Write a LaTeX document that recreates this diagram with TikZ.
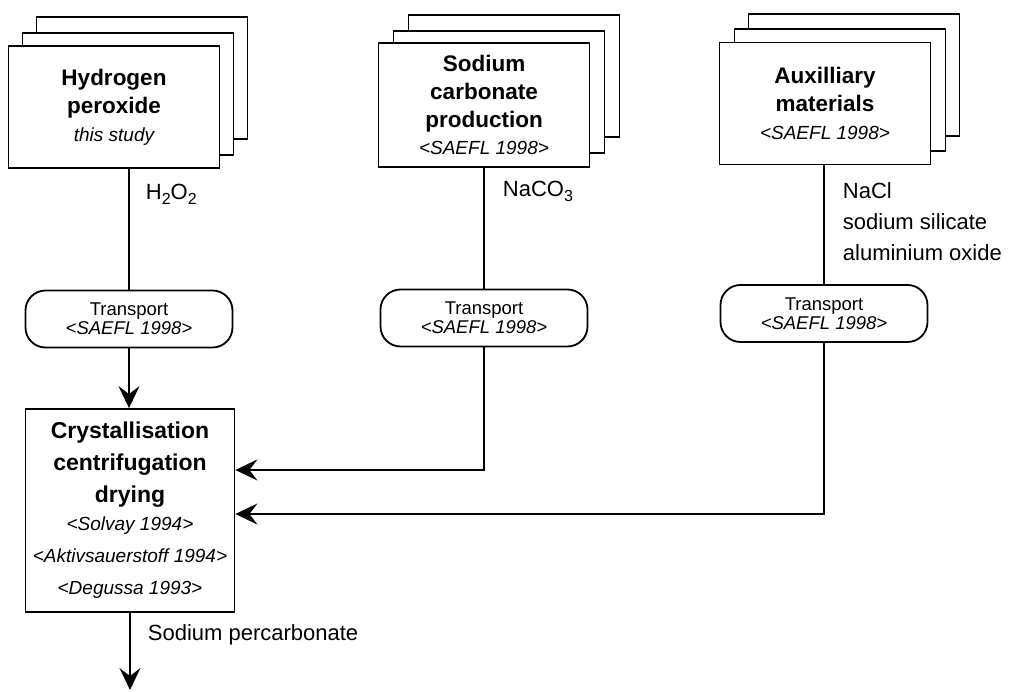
\documentclass[tikz,border=0pt]{standalone}
\usepackage{fontspec}
\setmainfont{Liberation Sans}
\usetikzlibrary{arrows.meta}
\newcommand\chemsub[1]{\raisebox{-5pt}{\fontsize{16}{16}\selectfont #1}}
\newcommand\reffont{\fontsize{19}{27}\selectfont\normalfont\itshape}
\newcommand\procref{\fontsize{19}{27}\selectfont\normalfont\itshape}
\begin{document}
\begin{tikzpicture}[x=1pt,y=-1pt,line width=1.8pt,
  srcbox/.style={draw, fill=white, minimum width=211pt, minimum height=122pt,
    align=center, inner sep=0pt, font=\fontsize{22.5}{28}\selectfont\bfseries},
  copybox/.style={draw, fill=white, minimum width=211pt, minimum height=122pt, inner sep=0pt},
  transbox/.style={draw, fill=white, rounded corners=20pt, minimum width=207pt,
    minimum height=57pt, align=center, inner sep=0pt, font=\fontsize{18.5}{19}\selectfont},
  procbox/.style={draw, fill=white, minimum width=209pt, minimum height=203pt,
    align=center, inner sep=0pt, font=\fontsize{23}{32}\selectfont\bfseries},
  flowlbl/.style={inner sep=0pt, font=\fontsize{22}{31}\selectfont},
  arr/.style={-{Stealth[length=22pt,width=21pt,inset=8pt]}}
]
\useasboundingbox (0,0) rectangle (1022,692);
% source 1
\node[copybox] (b1c) at (142,78) {};
\node[copybox] (b1b) at (128,94) {};
\node[srcbox] (b1) at (114,107) {Hydrogen\\peroxide\\{\reffont this study}};
% source 2
\node[copybox] (b2c) at (514,76) {};
\node[copybox] (b2b) at (499,92) {};
\node[srcbox, minimum height=124pt] (b2) at (484,105) {Sodium\\carbonate\\production\\[-1pt]{\reffont <SAEFL 1998>}};
% source 3
\node[copybox] (b3c) at (854,75) {};
\node[copybox] (b3b) at (840,90) {};
\node[srcbox] (b3) at (825,103.5) {Auxilliary\\materials\\{\reffont <SAEFL 1998>}};
% transports
\node[transbox] (t1) at (129,319) {Transport\\{\itshape <SAEFL 1998>}};
\node[transbox] (t2) at (484,318) {Transport\\{\itshape <SAEFL 1998>}};
\node[transbox] (t3) at (824,313.5) {Transport\\{\itshape <SAEFL 1998>}};
% process
\node[procbox] (cr) at (130,510.5) {Crystallisation\\centrifugation\\drying\\[-4pt]{\procref <Solvay 1994>}\\{\procref <Aktivsauerstoff 1994>}\\{\procref <Degussa 1993>}};
% junctions
\coordinate (j2) at (484,470);
\coordinate (j3) at (824,514);
\coordinate (out) at (130,690);
% connectors
\draw (b1.south -| t1.north) -- (t1.north);
\draw[arr] (t1.south) -- (t1.south |- cr.north);
\draw (b2.south) -- (t2.north);
\draw[arr] (t2.south) -- (j2) -- (j2 -| cr.east);
\draw (b3.south -| t3.north) -- (t3.north);
\draw[arr] (t3.south) -- (j3) -- (j3 -| cr.east);
\draw[arr] (cr.south) -- (out);
% labels
\node[flowlbl, anchor=base west] (l1) at (145,200) {H\chemsub{2}O\chemsub{2}};
\node[flowlbl, anchor=base west] (l2) at (502,197) {NaCO\chemsub{3}};
\node[flowlbl, anchor=north west, align=left] (l3) at (842,182) {NaCl\\sodium silicate\\aluminium oxide};
\node[flowlbl, anchor=base west] (l4) at (147,640) {Sodium percarbonate};
\end{tikzpicture}
\end{document}
